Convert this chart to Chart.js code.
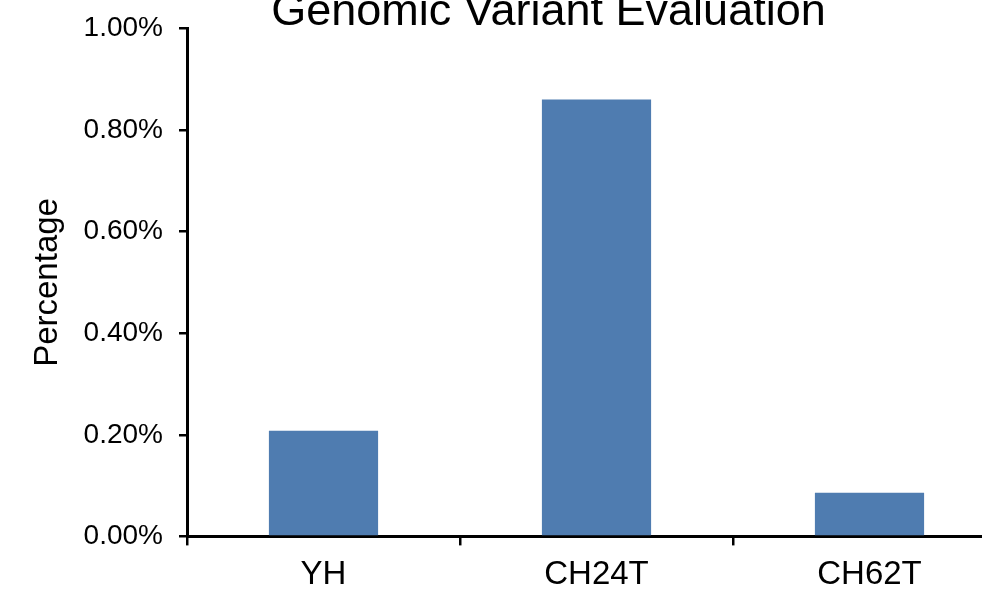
<!DOCTYPE html>
<html>
<head>
<meta charset="utf-8">
<script src="https://cdn.jsdelivr.net/npm/chart.js@4.4.0/dist/chart.umd.min.js"></script>
<style>
  html, body { margin: 0; padding: 0; overflow: hidden; background: #fff; width: 982px; height: 592px; }
  #barchart { position: absolute; left: 0; top: -20px; }
</style>
</head>
<body>
<canvas id="barchart" width="1097" height="625"></canvas>
<script>
var samples = ['YH', 'CH24T', 'CH62T'];
var percentages = [0.208, 0.860, 0.086];
var yTicks = [0, 0.2, 0.4, 0.6, 0.8, 1.0];

// the title is centred over the whole (cropped) figure, not the plot
var wideTitle = {
    id: 'wideTitle',
    afterLayout: function (chart) {
        if (chart.titleBlock) chart.titleBlock.right = chart.width;
    }
};

var crt = document.getElementById("barchart").getContext('2d');
new Chart(crt, {
    type: "bar",
    data: {
        labels: samples,
        datasets: [{
            data: percentages,
            backgroundColor: '#4f7cb0',
            borderWidth: 0,
            categoryPercentage: 1,
            barPercentage: 0.4
        }]
    },
    options: {
        responsive: false,
        animation: false,
        layout: { padding: { left: 0, right: 91, top: 0, bottom: 0 } },
        plugins: {
            legend: { display: false },
            tooltip: { enabled: false },
            title: {
                display: true,
                text: "Genomic Variant Evaluation",
                color: '#000',
                font: { family: 'Liberation Sans, Arial, sans-serif', size: 45, weight: 'normal', lineHeight: 0.7 },
                padding: { top: 17, bottom: 0 }
            }
        },
        scales: {
            x: {
                grid: { offset: true, drawOnChartArea: false, color: '#000', lineWidth: 2.5, tickLength: 9 },
                border: { display: true, color: '#000', width: 3 },
                ticks: {
                    color: '#000',
                    padding: 10,
                    font: { family: 'Liberation Sans, Arial, sans-serif', size: 33 }
                }
            },
            y: {
                min: 0,
                max: 1,
                afterFit: function (scale) { scale.width = 187; },
                afterBuildTicks: function (scale) {
                    scale.ticks = yTicks.map(function (v) { return { value: v }; });
                },
                grid: { drawOnChartArea: false, color: '#000', lineWidth: 2.5, tickLength: 8 },
                border: { display: true, color: '#000', width: 3 },
                ticks: {
                    color: '#000',
                    padding: 16,
                    font: { family: 'Liberation Sans, Arial, sans-serif', size: 28 },
                    callback: function (v) { return v.toFixed(2) + '%'; }
                },
                title: {
                    display: true,
                    text: 'Percentage',
                    color: '#000',
                    padding: { top: 28, bottom: 0 },
                    font: { family: 'Liberation Sans, Arial, sans-serif', size: 33 }
                }
            }
        }
    },
    plugins: [wideTitle]
});
</script>
</body>
</html>
